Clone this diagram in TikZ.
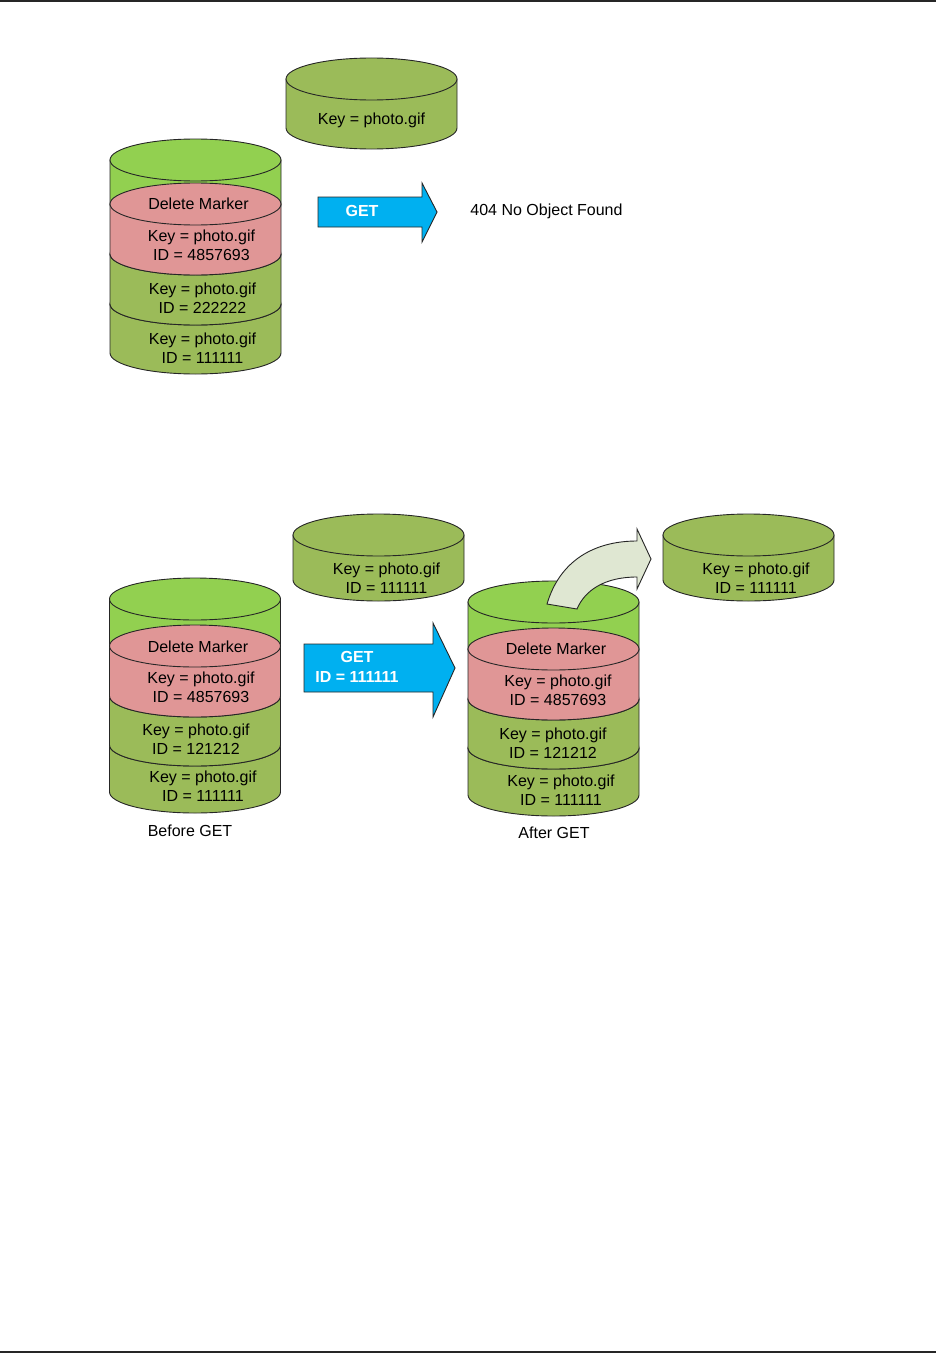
\documentclass[tikz,border=0pt]{standalone}
\usepackage{fontspec}
\setmainfont{Liberation Sans}
\usetikzlibrary{positioning}

\definecolor{topgreen}{HTML}{92D050}
\definecolor{olive}{HTML}{9BBB59}
\definecolor{marker}{HTML}{E09696}
\definecolor{getblue}{HTML}{00B0F0}
\definecolor{bend}{HTML}{DFE7D2}

% one piece of a cylinder: centre x, top y, bottom y, y radius, fill
\newcommand{\cylpart}[5]{%
  \filldraw[fill=#5] (#1-85.5,#2) -- (#1-85.5,#3)
      arc[start angle=180, end angle=0, x radius=85.5, y radius=#4]
      -- (#1+85.5,#2) -- cycle;
  \filldraw[fill=#5] (#1,#2) ellipse[x radius=85.5, y radius=#4];
}

\begin{document}
\begin{tikzpicture}[
    x=1pt, y=-1pt,
    line width=0.9pt,
    draw=black!85,
    txt/.style = {font=\fontsize{16}{19}\selectfont, align=center, inner sep=0pt},
    gettxt/.style = {txt, text=white, font=\fontsize{16}{20}\selectfont\bfseries},
    blockarrow/.style = {fill=getblue, draw=black!85},
    bendarrow/.style = {fill=bend, draw=black!85},
]
\useasboundingbox (0,0) rectangle (936,1354);

% page rules
\draw[line width=2pt] (0,1) -- (936,1);
\draw[line width=2pt] (0,1352) -- (936,1352);

% ---------- upper part ----------
% object on its own
\cylpart{371.5}{79}{128}{21}{olive}
\node[txt] (keyA) at (371.5,120) {Key = photo.gif};

% stack with delete marker on top
\cylpart{195.5}{160}{204}{21}{topgreen}
\cylpart{195.5}{304}{353}{21}{olive}
\cylpart{195.5}{254}{304}{21}{olive}
\cylpart{195.5}{204}{254}{21}{marker}
\node[txt] (delA) at (198.5,204) {Delete Marker};
\node[txt] (verA3) at (201.5,245) {Key = photo.gif\\ID = 4857693};
\node[txt] (verA2) at (202.5,298.5) {Key = photo.gif\\ID = 222222};
\node[txt] (verA1) at (202.5,348) {Key = photo.gif\\ID = 111111};

% GET arrow
\filldraw[blockarrow] (318,197) -- (422,197) -- (422,183) -- (437,212)
    -- (422,242) -- (422,227) -- (318,227) -- cycle;
\node[gettxt] (getA) at (362,211) {GET};
\node[txt, anchor=west] (notfound) at (470,211) {404 No Object Found};

% ---------- lower part ----------
% before GET
\cylpart{195}{599}{646}{21}{topgreen}
\cylpart{195}{745}{792}{21}{olive}
\cylpart{195}{696}{745}{21}{olive}
\cylpart{195}{646}{696}{21}{marker}
\node[txt] (delB) at (198,647) {Delete Marker};
\node[txt] (verB3) at (201,687.5) {Key = photo.gif\\ID = 4857693};
\node[txt] (verB2) at (196,739.5) {Key = photo.gif\\ID = 121212};
\node[txt] (verB1) at (203,786.5) {Key = photo.gif\\ID = 111111};
\node[txt] (before) at (190,831) {Before GET};

% object fetched by id
\cylpart{378.5}{535}{580}{21}{olive}
\node[txt] (keyB) at (386.5,578.5) {Key = photo.gif\\ID = 111111};

% GET with id arrow
\filldraw[blockarrow] (304,644) -- (433,644) -- (433,623) -- (455,668)
    -- (433,717) -- (433,692) -- (304,692) -- cycle;
\node[gettxt] (getB) at (357,667) {GET\\ID = 111111};

% after GET
\cylpart{553.5}{602}{649}{21}{topgreen}
\cylpart{553.5}{748}{795}{21}{olive}
\cylpart{553.5}{699}{748}{21}{olive}
\cylpart{553.5}{649}{699}{21}{marker}
\node[txt] (delC) at (556,649) {Delete Marker};
\node[txt] (verC3) at (558,690) {Key = photo.gif\\ID = 4857693};
\node[txt] (verC2) at (553,743) {Key = photo.gif\\ID = 121212};
\node[txt] (verC1) at (561,790) {Key = photo.gif\\ID = 111111};
\node[txt] (after) at (554,833) {After GET};

% returned object
\cylpart{748.5}{535}{580}{21}{olive}
\node[txt] (keyC) at (756,578.5) {Key = photo.gif\\ID = 111111};

% curved arrow out of the stack
\filldraw[bendarrow] (547,604) .. controls (560,560) and (595,541) .. (637,541)
    -- (637,529) -- (651,559) -- (637,589) -- (637,577)
    .. controls (605,577) and (585,590) .. (577,609) -- cycle;

\end{tikzpicture}
\end{document}
